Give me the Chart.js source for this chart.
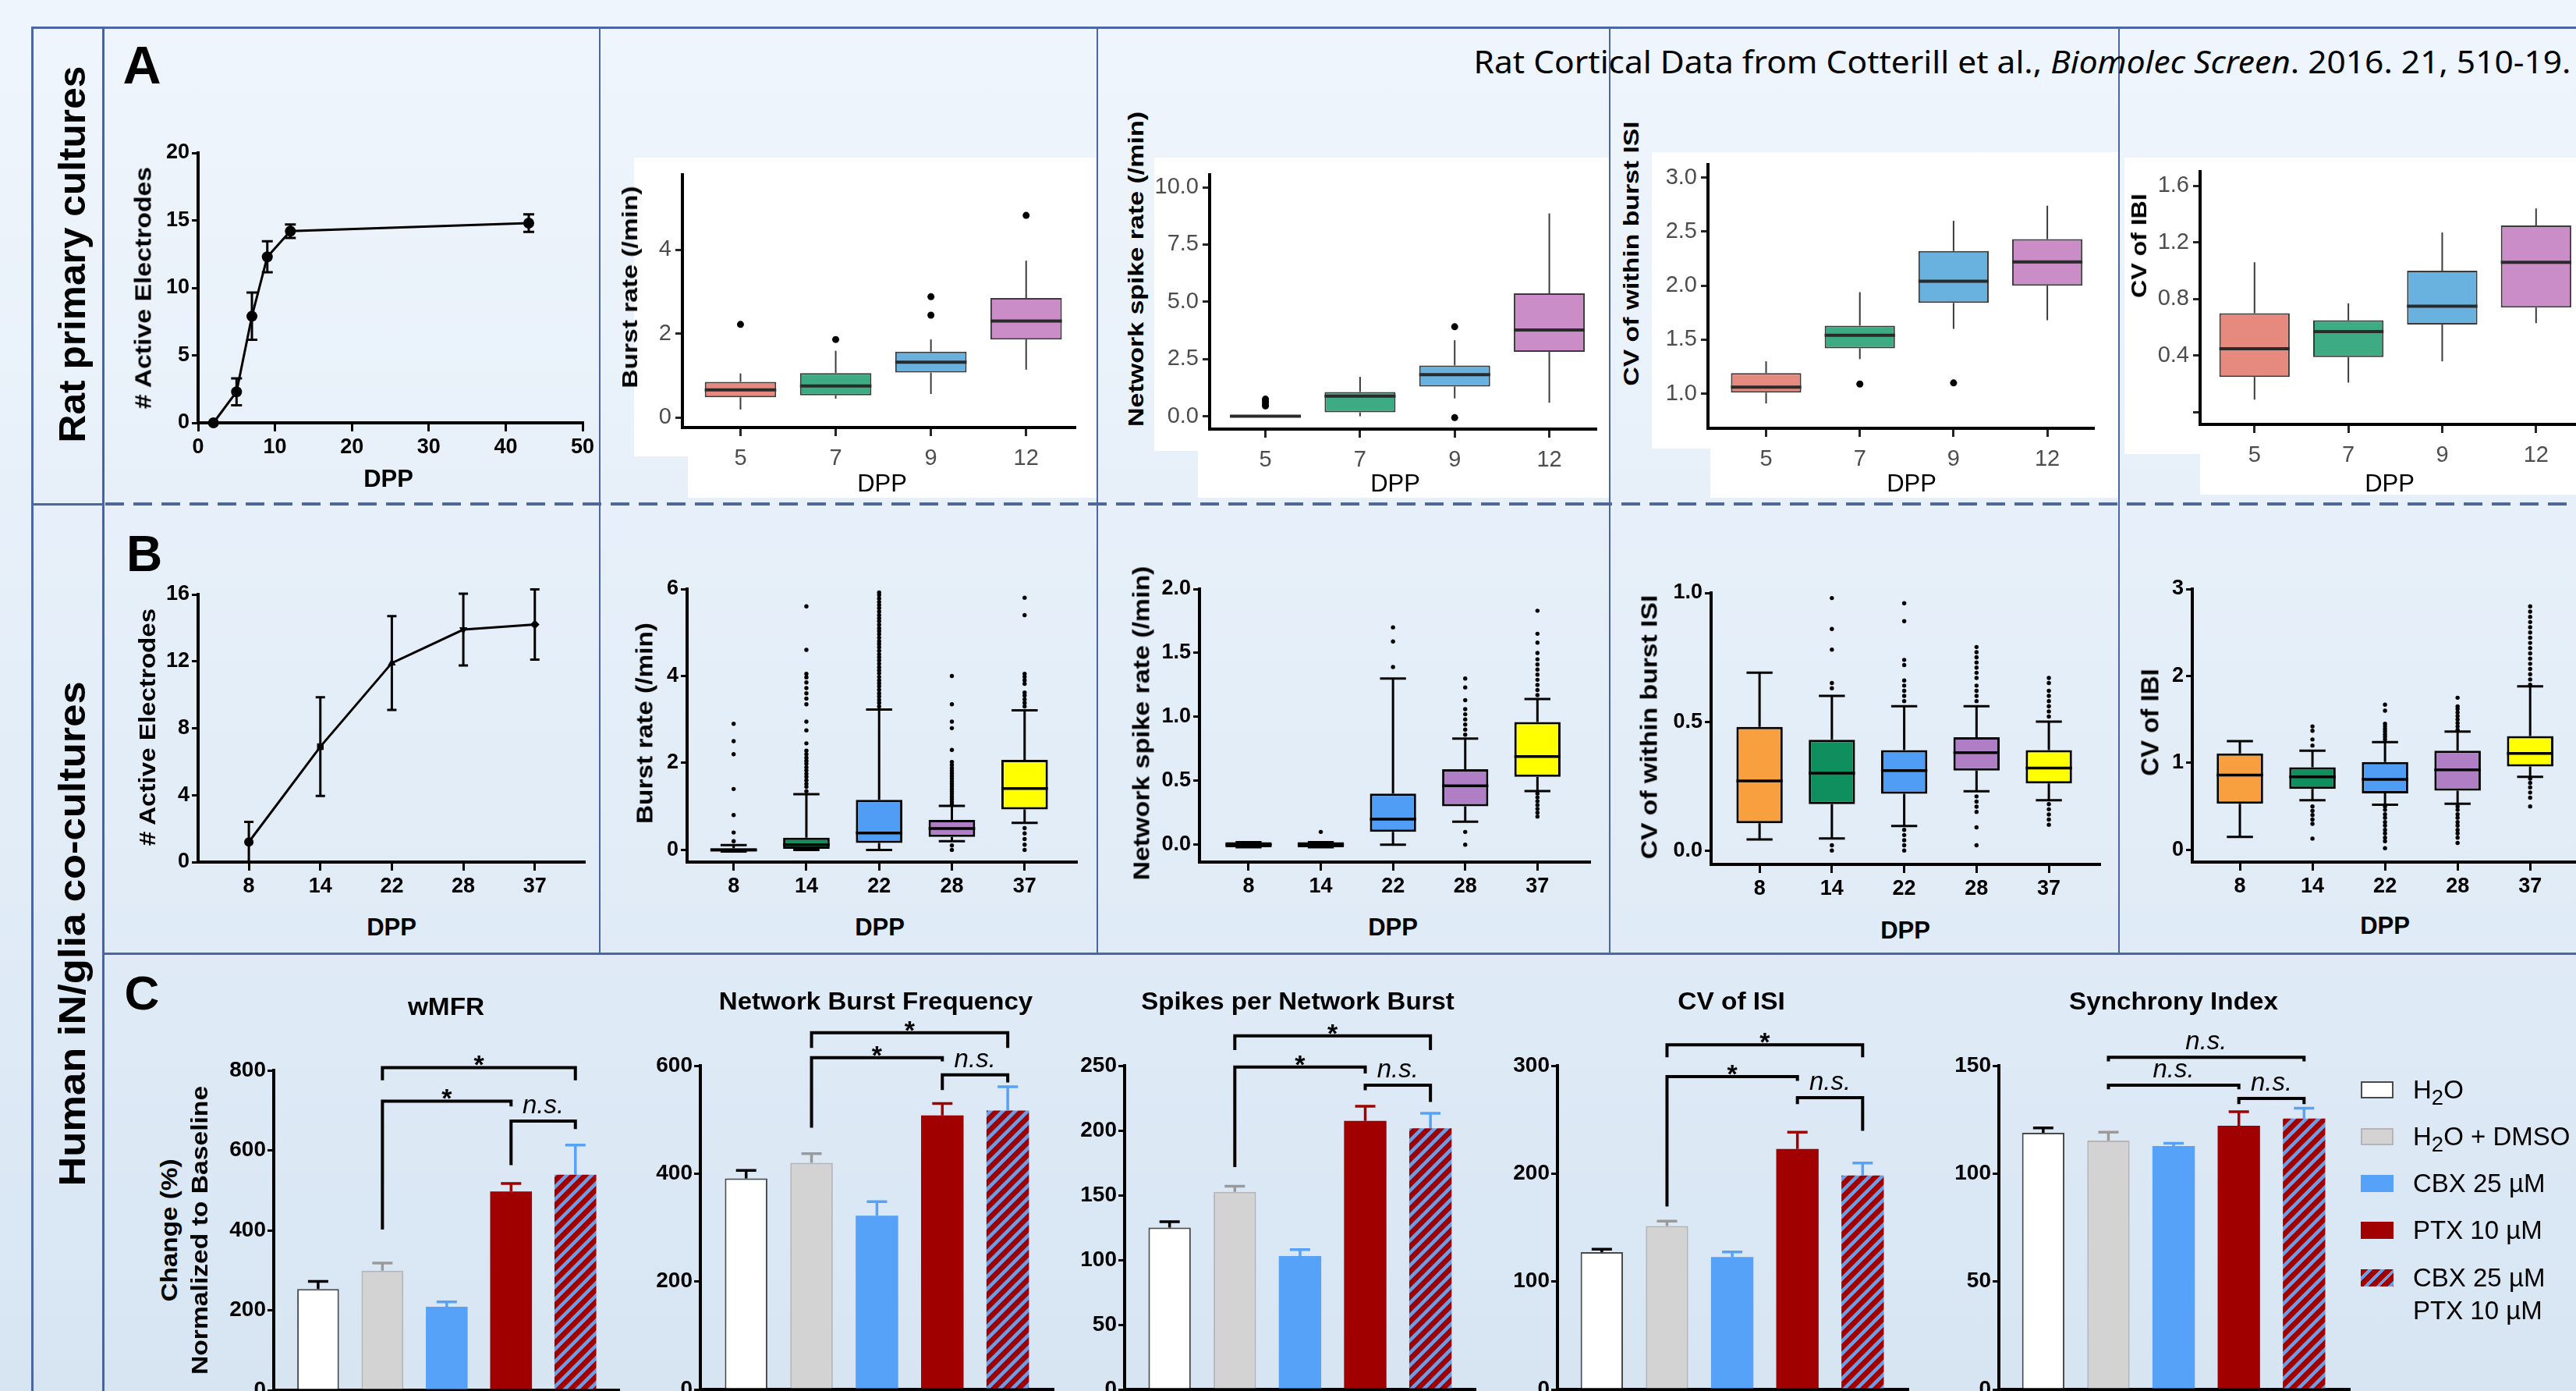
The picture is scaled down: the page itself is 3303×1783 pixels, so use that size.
<!DOCTYPE html>
<html lang="en">
<head>
<meta charset="UTF-8">
<title>MEA activity: rat primary cultures vs human iN/glia co-cultures</title>
<script src="https://cdn.jsdelivr.net/npm/chart.js"></script>
<style>
html, body { margin: 0; padding: 0; }
body {
  width: 3303px; height: 1783px; overflow: hidden; position: relative;
  background: linear-gradient(180deg, #eff5fc 0%, #e4eef8 50%, #d7e5f3 100%);
  font-family: 'Liberation Sans', Arial, sans-serif; color: #000;
}
.ln { position: absolute; background: #4a66a4; }
.white { position: absolute; background: #fff; }
.t { position: absolute; white-space: nowrap; line-height: 1; }
canvas { position: absolute; }
</style>
</head>
<body>
<script>
// ---------- A: rat primary cultures (Cotterill et al.) ----------
const ratDays = [2, 5, 7, 9, 12, 43];
const ratActive = [0, 2.3, 7.9, 12.3, 14.2, 14.8];
const ratActiveSem = [0, 1.0, 1.75, 1.15, 0.5, 0.65];
const ratDpp = ['5', '7', '9', '12'];
// every box: [lower whisker, Q1, median, Q3, upper whisker]
const ratBurst = [[0.19, 0.48, 0.66, 0.85, 1.05], [0.45, 0.53, 0.75, 1.06, 1.59], [0.56, 1.07, 1.32, 1.57, 1.86], [1.14, 1.86, 2.30, 2.85, 3.74]];
const ratBurstOut = [[2.22], [1.86], [2.44, 2.88], [4.82]];
const ratSpike = [[-0.05, -0.05, 0, 0.05, 0.05], [0, 0.17, 0.88, 1.06, 1.72], [0.78, 1.30, 1.82, 2.22, 3.32], [0.59, 2.81, 3.77, 5.37, 8.86]];
const ratSpikeOut = [[0.45, 0.55, 0.65, 0.75], [], [3.91, -0.06], []];
const ratWithinIsi = [[0.91, 1.01, 1.06, 1.19, 1.30], [1.32, 1.42, 1.54, 1.63, 1.94], [1.60, 1.84, 2.04, 2.32, 2.60], [1.68, 2.00, 2.22, 2.43, 2.74]];
const ratWithinIsiOut = [[], [1.09], [1.10], []];
const ratIbi = [[0.09, 0.25, 0.45, 0.70, 1.06], [0.21, 0.39, 0.57, 0.65, 0.77], [0.36, 0.62, 0.75, 1.00, 1.27], [0.63, 0.74, 1.06, 1.32, 1.44]];
const ratIbiOut = [[], [], [], []];

// ---------- B: human iN/glia co-cultures ----------
const humanDpp = ['8', '14', '22', '28', '37'];
const humanActive = [1.2, 6.9, 11.9, 13.9, 14.2];
const humanActiveSem = [1.2, 2.95, 2.8, 2.15, 2.1];
const humanBurst = [[-0.04, -0.04, 0, 0.04, 0.11], [0, 0, 0.12, 0.28, 1.28], [0, 0.16, 0.39, 1.15, 3.23], [0.2, 0.30, 0.49, 0.69, 1.01], [0.62, 0.93, 1.41, 2.07, 3.21]];
const humanBurstOut = [
  [0.2, 0.4, 0.8, 1.4, 2.2, 2.5, 2.9],
  [1.35, 1.45, 1.52, 1.6, 1.68, 1.75, 1.83, 1.9, 1.98, 2.05, 2.12, 2.2, 2.28, 2.45, 2.75, 2.95, 3.35, 3.48, 3.6, 3.72, 3.85, 3.97, 4.05, 4.6, 5.6],
  [3.3, 3.38, 3.45, 3.53, 3.6, 3.68, 3.76, 3.83, 3.9, 3.98, 4.06, 4.13, 4.2, 4.28, 4.36, 4.43, 4.5, 4.58, 4.66, 4.73, 4.8, 4.88, 4.96, 5.03, 5.1, 5.18, 5.26, 5.33, 5.4, 5.48, 5.56, 5.63, 5.7, 5.78, 5.86, 5.92],
  [1.05, 1.1, 1.16, 1.22, 1.28, 1.34, 1.4, 1.46, 1.52, 1.58, 1.64, 1.7, 1.76, 1.82, 1.88, 1.95, 2.02, 2.3, 2.8, 2.95, 3.35, 4.0, 0.1, 0.0],
  [3.3, 3.38, 3.46, 3.55, 3.62, 3.82, 3.9, 3.98, 4.05, 5.4, 5.8, 0.5, 0.38, 0.25, 0.12, 0.0]
];
const humanSpike = [[-0.02, -0.02, 0, 0.02, 0.02], [-0.02, -0.02, 0, 0.02, 0.02], [0, 0.10, 0.20, 0.40, 1.30], [0.18, 0.30, 0.46, 0.59, 0.83], [0.42, 0.53, 0.69, 0.96, 1.14]];
const humanSpikeOut = [
  [], [0.1], [1.39, 1.59, 1.7],
  [0.86, 0.9, 0.94, 0.98, 1.02, 1.06, 1.13, 1.23, 1.3, 0.1, 0.0],
  [1.17, 1.21, 1.25, 1.29, 1.33, 1.37, 1.41, 1.45, 1.5, 1.58, 1.65, 1.83, 0.4, 0.37, 0.34, 0.31, 0.28, 0.25, 0.22]
];
const humanWithinIsi = [[0.043, 0.106, 0.27, 0.48, 0.69], [0.047, 0.18, 0.30, 0.43, 0.60], [0.095, 0.22, 0.31, 0.39, 0.56], [0.23, 0.31, 0.38, 0.44, 0.56], [0.195, 0.26, 0.32, 0.39, 0.50]];
const humanWithinIsiOut = [
  [],
  [0.63, 0.65, 0.78, 0.86, 0.98, 0.02, 0.0],
  [0.58, 0.6, 0.62, 0.64, 0.66, 0.72, 0.74, 0.89, 0.96, 0.08, 0.06, 0.04, 0.02, 0.0],
  [0.58, 0.6, 0.62, 0.64, 0.67, 0.69, 0.71, 0.73, 0.75, 0.77, 0.79, 0.21, 0.19, 0.17, 0.15, 0.09, 0.02],
  [0.52, 0.54, 0.56, 0.58, 0.6, 0.62, 0.65, 0.67, 0.18, 0.16, 0.14, 0.12, 0.1]
];
const humanIbi = [[0.15, 0.53, 0.86, 1.11, 1.25], [0.57, 0.70, 0.84, 0.95, 1.14], [0.52, 0.65, 0.81, 1.01, 1.24], [0.53, 0.68, 0.92, 1.14, 1.36], [0.84, 0.96, 1.11, 1.31, 1.88]];
const humanIbiOut = [
  [],
  [1.2, 1.27, 1.37, 1.42, 0.5, 0.45, 0.4, 0.35, 0.3, 0.13],
  [1.27, 1.3, 1.33, 1.36, 1.39, 1.42, 1.45, 1.6, 1.67, 0.5, 0.46, 0.41, 0.37, 0.32, 0.28, 0.23, 0.19, 0.14, 0.1, 0.02],
  [1.38, 1.42, 1.46, 1.5, 1.54, 1.58, 1.62, 1.65, 1.75, 0.5, 0.46, 0.41, 0.37, 0.32, 0.28, 0.23, 0.19, 0.14, 0.08],
  [1.9, 1.96, 2.02, 2.08, 2.14, 2.2, 2.26, 2.32, 2.38, 2.44, 2.5, 2.56, 2.62, 2.68, 2.74, 2.8, 0.82, 0.77, 0.72, 0.66, 0.6, 0.5]
];

// ---------- C: pharmacology, % of baseline ----------
const treatments = ['H<sub>2</sub>O', 'H<sub>2</sub>O + DMSO', 'CBX 25 &micro;M', 'PTX 10 &micro;M', 'CBX 25 &micro;M<br>PTX 10 &micro;M'];
const wmfr = [253, 299, 209, 497, 539];
const wmfrSem = [19, 19, 12, 20, 74];
const burstFreq = [391, 420, 322, 508, 517];
const burstFreqSem = [15, 17, 26, 22, 44];
const spikesPerBurst = [125, 152.6, 103, 207.4, 201.6];
const spikesPerBurstSem = [4.5, 4.4, 5, 11.3, 11.7];
const cvIsi = [127.3, 151.4, 122.8, 222.8, 198.2];
const cvIsiSem = [2.7, 4.6, 4.7, 15.6, 11.6];
const synchrony = [118.9, 115.3, 112.8, 122.2, 125.5];
const synchronySem = [2.3, 3.9, 1.2, 6.5, 4.8];
// brackets: [from bar, to bar, line level, left leg end, right leg end, label]
const wmfrSig = [[1, 4, 807, 775, 775, '*'], [1, 3, 723, 402, 710, '*'], [3, 4, 673, 563, 653, 'n.s.']];
const burstFreqSig = [[1, 4, 661, 633, 633, '*'], [1, 3, 615, 485, 608, '*'], [3, 4, 583, 555, 569, 'n.s.']];
const spikesPerBurstSig = [[1, 4, 273, 262, 262, '*'], [1, 3, 249, 171.7, 244, '*'], [3, 4, 235, 231, 222, 'n.s.']];
const cvIsiSig = [[1, 4, 319.4, 307.7, 307.7, '*'], [1, 3, 289.8, 169.6, 285.9, '*'], [3, 4, 270.3, 264.4, 239.7, 'n.s.']];
const synchronySig = [[1, 4, 153.9, 152, 152, 'n.s.'], [1, 3, 141, 139.1, 139.1, 'n.s.'], [3, 4, 134.8, 132.2, 132.2, 'n.s.']];

// ---------- helpers ----------
const F = "'Liberation Sans', Arial, Helvetica, sans-serif";
Chart.defaults.font.family = F;
const body = document.body;

function block(cls, x, y, w, h, extra) {
  const d = document.createElement('div');
  d.className = cls;
  Object.assign(d.style, { left: x + 'px', top: y + 'px', width: w + 'px', height: h + 'px' }, extra || {});
  body.appendChild(d);
  return d;
}

// text centred on (x, y), optionally rotated and squeezed to a width
function text(html, x, y, font, rot, fitW) {
  const d = document.createElement('div');
  d.className = 't';
  d.innerHTML = html;
  d.style.font = font;
  body.appendChild(d);
  const sx = fitW ? fitW / d.offsetWidth : 1;
  d.style.left = x + 'px';
  d.style.top = y + 'px';
  d.style.transform = 'translate(-50%,-50%) rotate(' + (rot || 0) + 'deg) scaleX(' + sx + ')';
  return d;
}

function mount(plot, m, cfg) {
  const [x0, y0, x1, y1] = plot;
  const c = document.createElement('canvas');
  c.width = Math.round(x1 - x0 + m[0] + m[2]);
  c.height = Math.round(y1 - y0 + m[1] + m[3]);
  c.style.left = Math.round(x0 - m[0]) + 'px';
  c.style.top = Math.round(y0 - m[1]) + 'px';
  body.appendChild(c);
  const o = cfg.options;
  o.responsive = false;
  o.animation = false;
  o.devicePixelRatio = 1;
  o.events = [];
  o.layout = { padding: { left: 0, top: m[1], right: m[2], bottom: 0 } };
  o.scales.x.afterFit = s => { s.height = m[3]; s.paddingLeft = 0; s.paddingRight = 0; };
  o.scales.y.afterFit = s => { s.width = m[0]; s.paddingTop = 0; s.paddingBottom = 0; };
  o.plugins = { legend: { display: false }, tooltip: { enabled: false } };
  return new Chart(c, cfg);
}

function scale(min, max, ticks, fmt, st, horiz) {
  return {
    type: 'linear', min: min, max: max, offset: false,
    afterBuildTicks: s => { s.ticks = ticks.map(v => ({ value: v })); },
    ticks: { callback: fmt, font: st.font, color: st.color, padding: horiz ? st.padX : st.padY, autoSkip: false, maxRotation: 0, minRotation: 0 },
    grid: { display: true, drawOnChartArea: false, drawTicks: true, tickLength: horiz ? st.tickX : st.tickY, lineWidth: st.tickW, color: st.tickColor, offset: false },
    border: { display: true, width: st.axisW, color: '#000' }
  };
}

// whiskers (behind the boxes) and medians (on top)
function boxParts(stats, st) {
  return {
    id: 'boxParts',
    beforeDatasetsDraw(chart) {
      const ctx = chart.ctx, xs = chart.scales.x, ys = chart.scales.y;
      const bars = chart.getDatasetMeta(0).data;
      ctx.save();
      ctx.strokeStyle = st.line;
      ctx.lineWidth = st.whiskerW;
      stats.forEach((s, i) => {
        const x = bars[i].x;
        const half = st.cap ? xs.getPixelForValue(i + st.cap / 2) - xs.getPixelForValue(i) : 0;
        [[s[0], s[1]], [s[4], s[3]]].forEach(([end, edge]) => {
          const ye = ys.getPixelForValue(end), yb = ys.getPixelForValue(edge);
          ctx.beginPath();
          ctx.moveTo(x, yb); ctx.lineTo(x, ye);
          if (half) { ctx.moveTo(x - half, ye); ctx.lineTo(x + half, ye); }
          ctx.stroke();
        });
      });
      ctx.restore();
    },
    afterDatasetDraw(chart, args) {
      if (args.index !== 0) return;
      const ctx = chart.ctx, ys = chart.scales.y;
      const bars = chart.getDatasetMeta(0).data;
      ctx.save();
      ctx.strokeStyle = st.medColor;
      ctx.lineWidth = st.medW;
      stats.forEach((s, i) => {
        const b = bars[i], y = ys.getPixelForValue(s[2]);
        ctx.beginPath();
        ctx.moveTo(b.x - b.width / 2, y); ctx.lineTo(b.x + b.width / 2, y);
        ctx.stroke();
      });
      ctx.restore();
    }
  };
}

function errorBars(sem, spec) {
  return {
    id: 'errorBars',
    afterDatasetsDraw(chart) {
      const ctx = chart.ctx, ys = chart.scales.y;
      const pts = chart.getDatasetMeta(0).data;
      const vals = chart.data.datasets[0].data;
      ctx.save();
      ctx.lineWidth = spec.w;
      pts.forEach((p, i) => {
        if (!sem[i]) return;
        const v = vals[i].y;
        const hi = ys.getPixelForValue(v + sem[i]);
        const lo = spec.up ? p.y : ys.getPixelForValue(v - sem[i]);
        ctx.strokeStyle = Array.isArray(spec.color) ? spec.color[i] : spec.color;
        ctx.beginPath();
        ctx.moveTo(p.x, lo); ctx.lineTo(p.x, hi);
        ctx.moveTo(p.x - spec.cap, hi); ctx.lineTo(p.x + spec.cap, hi);
        if (!spec.up) { ctx.moveTo(p.x - spec.cap, lo); ctx.lineTo(p.x + spec.cap, lo); }
        ctx.stroke();
      });
      ctx.restore();
    }
  };
}

function brackets(list) {
  return {
    id: 'brackets',
    afterDraw(chart) {
      const ctx = chart.ctx, xs = chart.scales.x, ys = chart.scales.y;
      ctx.save();
      ctx.lineWidth = 4;
      ctx.strokeStyle = '#000';
      ctx.fillStyle = '#000';
      ctx.textAlign = 'center';
      ctx.textBaseline = 'alphabetic';
      list.forEach(([a, b, lvl, la, lb, lab]) => {
        const xa = xs.getPixelForValue(a), xb = xs.getPixelForValue(b), y = ys.getPixelForValue(lvl);
        ctx.beginPath();
        ctx.moveTo(xa, ys.getPixelForValue(la)); ctx.lineTo(xa, y);
        ctx.lineTo(xb, y); ctx.lineTo(xb, ys.getPixelForValue(lb));
        ctx.stroke();
        if (lab === '*') {
          ctx.font = 'bold 34px ' + F;
          ctx.fillText(lab, (xa + xb) / 2, y + 8);
        } else {
          ctx.font = 'italic 33px ' + F;
          ctx.fillText(lab, (xa + xb) / 2, y - 10);
        }
      });
      ctx.restore();
    }
  };
}

// ---------- styles ----------
const gg = {
  m: [75, 24, 30, 60], font: { family: F, size: 29 }, color: '#4d4d4d',
  tickX: 11, tickY: 9, tickW: 3, tickColor: '#262626', axisW: 4, padX: 12, padY: 5,
  boxW: 0.75, boxLine: 2, line: '#3b3b3b', whiskerW: 2, medW: 4, medColor: '#2a2a2a', cap: 0, dot: 4.5
};
const prism = {
  m: [75, 24, 30, 60], font: { family: F, size: 27, weight: 'bold' }, color: '#000',
  tickX: 11, tickY: 8, tickW: 3, tickColor: '#000', axisW: 4, padX: 4, padY: 3,
  boxW: 0.64, boxLine: 3, line: '#000', whiskerW: 3, medW: 3.5, medColor: '#000', cap: 0.36, dot: 2.7
};
const prismC = Object.assign({}, prism, { font: { family: F, size: 28, weight: 'bold' }, padY: 2 });
const ratFill = ['#e68a80', '#3dab83', '#69b1de', '#cb8dc7'];
const humanFill = ['#f89f3f', '#0f8f5d', '#4f9df4', '#b07ec4', '#ffff00'];

const stripe = (() => {
  const c = document.createElement('canvas');
  c.width = c.height = 16;
  const g = c.getContext('2d');
  g.fillStyle = '#a00000';
  g.fillRect(0, 0, 16, 16);
  g.strokeStyle = '#6a9ee6';
  g.lineWidth = 4.5;
  g.beginPath();
  g.moveTo(-4, 20); g.lineTo(20, -4);
  g.moveTo(-12, 12); g.lineTo(12, -12);
  g.moveTo(4, 28); g.lineTo(28, 4);
  g.stroke();
  return g.createPattern(c, 'repeat');
})();
const barFill = ['#ffffff', '#d3d3d3', '#55a2f8', '#a00000', stripe];
const barEdge = ['#4a4a4a', '#b5b5b5', '#55a2f8', '#a00000', '#a00000'];
const barEdgeW = [2, 2, 0, 0, 0];
const semColor = ['#000', '#9a9a9a', '#55a2f8', '#a00000', '#55a2f8'];

// ---------- frame ----------
block('white', 813, 202, 594, 383); block('white', 882, 585, 525, 53);
block('white', 1480, 202, 584, 376); block('white', 1536, 578, 528, 60);
block('white', 2118, 195, 600, 380); block('white', 2193, 575, 525, 63);
block('white', 2724, 202, 579, 380); block('white', 2821, 582, 482, 52);

block('ln', 40, 34, 3263, 3);
block('ln', 40, 34, 3, 1749);
block('ln', 131, 34, 3, 1749, { background: '#3f64b4' });
[768, 1406, 2063, 2716].forEach(x => block('ln', x, 34, 2, 1190));
block('ln', 131, 1221, 3172, 3);
block('ln', 40, 645, 92, 3);
block('ln', 135, 644, 3168, 4, { background: 'repeating-linear-gradient(90deg, #4f6796 0 24px, transparent 24px 36px)' });

// ---------- row A ----------
mount([254, 196, 747, 542], prism.m, {
  type: 'line',
  data: { datasets: [{
    data: ratDays.map((d, i) => ({ x: d, y: ratActive[i] })),
    borderColor: '#000', borderWidth: 3, pointRadius: 7, pointBackgroundColor: '#000', pointBorderWidth: 0, tension: 0, clip: false
  }] },
  options: { scales: {
    x: scale(0, 50, [0, 10, 20, 30, 40, 50], v => v, prism, true),
    y: scale(0, 20, [0, 5, 10, 15, 20], v => v, prism, false)
  } },
  plugins: [errorBars(ratActiveSem, { w: 3, cap: 7, color: '#000' })]
});

function boxPanel(plot, xr, yr, yTicks, yFmt, cats, stats, outs, fills, st) {
  return mount(plot, st.m, {
    type: 'bar',
    data: { datasets: [
      { type: 'bar', data: stats.map((s, i) => ({ x: i, y: [s[1], s[3]] })), backgroundColor: fills, borderColor: st.line,
        borderWidth: st.boxLine, borderSkipped: false, categoryPercentage: 1, barPercentage: st.boxW, order: 2 },
      { type: 'scatter', data: outs.flatMap((o, i) => o.map(v => ({ x: i, y: v }))), pointRadius: st.dot,
        pointBackgroundColor: '#000', pointBorderWidth: 0, clip: false, order: 1 }
    ] },
    options: { scales: {
      x: scale(xr[0], xr[1], cats.map((c, i) => i), v => cats[v], st, true),
      y: scale(yr[0], yr[1], yTicks, yFmt, st, false)
    } },
    plugins: [boxParts(stats, st)]
  });
}
const one = v => v.toFixed(1);

boxPanel([875, 224, 1378, 548], [-0.61, 3.51], [-0.24, 5.79], [0, 2, 4], v => v, ratDpp, ratBurst, ratBurstOut, ratFill, gg);
boxPanel([1551, 224, 2046, 550], [-0.59, 3.49], [-0.56, 10.55], [0, 2.5, 5, 7.5, 10], one, ratDpp, ratSpike, ratSpikeOut, ratFill, gg);
boxPanel([2190, 211, 2684, 549], [-0.62, 3.49], [0.68, 3.12], [1, 1.5, 2, 2.5, 3], one, ratDpp, ratWithinIsi, ratWithinIsiOut, ratFill, gg);
boxPanel([2821, 220, 3324, 544], [-0.58, 3.6], [-0.085, 1.70], [0, 0.4, 0.8, 1.2, 1.6], v => (v ? v.toFixed(1) : ''), ratDpp, ratIbi, ratIbiOut, ratFill, gg);

// ---------- row B ----------
mount([254, 762, 749, 1105], prism.m, {
  type: 'line',
  data: { datasets: [{
    data: humanActive.map((v, i) => ({ x: i, y: v })),
    borderColor: '#000', borderWidth: 3, pointRadius: 6,
    pointStyle: ['circle', 'rect', 'triangle', 'triangle', 'rectRot'], pointRotation: [0, 0, 0, 180, 0],
    pointBackgroundColor: '#000', pointBorderWidth: 0, tension: 0, clip: false
  }] },
  options: { scales: {
    x: scale(-0.71, 4.69, [0, 1, 2, 3, 4], v => humanDpp[v], prism, true),
    y: scale(0, 16, [0, 4, 8, 12, 16], v => v, prism, false)
  } },
  plugins: [errorBars(humanActiveSem, { w: 3, cap: 6, color: '#000' })]
});

boxPanel([881, 755, 1380, 1105], [-0.64, 4.71], [-0.28, 6], [0, 2, 4, 6], v => v, humanDpp, humanBurst, humanBurstOut, humanFill, prism);
boxPanel([1538, 755, 2038, 1105], [-0.68, 4.72], [-0.136, 2], [0, 0.5, 1, 1.5, 2], one, humanDpp, humanSpike, humanSpikeOut, humanFill, prism);
boxPanel([2194, 760, 2692, 1108], [-0.67, 4.70], [-0.054, 1], [0, 0.5, 1], one, humanDpp, humanWithinIsi, humanWithinIsiOut, humanFill, prism);
boxPanel([2811, 755, 3314, 1105], [-0.656, 4.75], [-0.14, 3], [0, 1, 2, 3], v => v, humanDpp, humanIbi, humanIbiOut, humanFill, prism);

// ---------- row C ----------
function barPanel(plot, xr, ymax, yTicks, vals, sem, sig) {
  return mount(plot, [80, 130, 20, 40], {
    type: 'bar',
    data: { datasets: [{
      data: vals.map((v, i) => ({ x: i, y: v })), backgroundColor: barFill, borderColor: barEdge, borderWidth: barEdgeW,
      categoryPercentage: 1, barPercentage: 0.65
    }] },
    options: { scales: {
      x: { type: 'linear', min: xr[0], max: xr[1], offset: false,
           afterBuildTicks: s => { s.ticks = vals.map((v, i) => ({ value: i })); },
           ticks: { display: false }, grid: { display: true, drawOnChartArea: false, drawTicks: true, tickLength: 8, lineWidth: 3, color: '#000', offset: false },
           border: { display: true, width: 4, color: '#000' } },
      y: scale(0, ymax, yTicks, v => v, prismC, false)
    } },
    plugins: [errorBars(sem, { w: 3.5, cap: 13, color: semColor, up: true }), brackets(sig)]
  });
}
barPanel([351, 1371.5, 793, 1781], [-0.69, 4.67], 800, [0, 200, 400, 600, 800], wmfr, wmfrSem, wmfrSig);
barPanel([898, 1366, 1350, 1781], [-0.70, 4.69], 600, [0, 200, 400, 600], burstFreq, burstFreqSem, burstFreqSig);
barPanel([1441.5, 1366, 1890, 1781], [-0.69, 4.68], 250, [0, 50, 100, 150, 200, 250], spikesPerBurst, spikesPerBurstSem, spikesPerBurstSig);
barPanel([1997, 1366, 2446, 1781], [-0.68, 4.69], 300, [0, 100, 200, 300], cvIsi, cvIsiSem, cvIsiSig);
barPanel([2563, 1366, 3012, 1781], [-0.68, 4.69], 150, [0, 50, 100, 150], synchrony, synchronySem, synchronySig);

// ---------- text ----------
const bold = s => 'bold ' + s + 'px ' + F;
const reg = s => s + 'px ' + F;

text('Rat primary cultures', 92, 326, bold(48), -90, 483);
text('Human iN/glia co-cultures', 92, 1197, bold(48), -90, 647);
text('A', 182, 83, bold(68));
text('B', 185, 710, bold(64));
text('C', 182, 1272, bold(62));
text('Rat Cortical Data from Cotterill et al., <i>Biomolec Screen</i>. 2016. 21, 510-19.', 2593, 78, "40px 'Noto Sans', " + F, 0, 1407);

text('# Active Electrodes', 184, 369, bold(29), -90, 311);
text('Burst rate (/min)', 808, 368, bold(28), -90, 259);
text('Network spike rate (/min)', 1457, 345, bold(28), -90, 404);
text('CV of within burst ISI', 2092, 325, bold(28), -90, 340);
text('CV of IBI', 2743, 315, bold(28), -90, 134);
text('DPP', 498, 614, bold(31));
[1131, 1789, 2451, 3064].forEach(x => text('DPP', x, 620, reg(31)));

text('# Active Electrodes', 189, 932, bold(29), -90, 305);
text('Burst rate (/min)', 827, 927, bold(29), -90, 258);
text('Network spike rate (/min)', 1464, 927, bold(29), -90, 403);
text('CV of within burst ISI', 2115, 932, bold(29), -90, 339);
text('CV of IBI', 2757, 926, bold(32), -90, 137);
[[502, 1189], [1128, 1189], [1786, 1189], [2443, 1193], [3058, 1187]].forEach(p => text('DPP', p[0], p[1], bold(31)));

text('wMFR', 572, 1290, bold(32), 0, 98);
text('Network Burst Frequency', 1123, 1283, bold(32), 0, 402);
text('Spikes per Network Burst', 1664, 1283, bold(32), 0, 401);
text('CV of ISI', 2220, 1283, bold(32), 0, 138);
text('Synchrony Index', 2787, 1283, bold(32), 0, 268);
text('Change (%)', 217, 1577, bold(30), -90, 183);
text('Normalized to Baseline', 256, 1577, bold(30), -90, 370);

// legend
const swatch = [
  { background: '#fff', border: '2px solid #4a4a4a' },
  { background: '#d3d3d3', border: '2px solid #b5b5b5' },
  { background: '#55a2f8' },
  { background: '#a00000' },
  { background: 'repeating-linear-gradient(135deg, #a00000 0 7px, #6a9ee6 7px 11px)' }
];
[1397, 1457, 1517, 1577, 1638].forEach((y, i) => {
  block('sw', 3027, y - 11, 42, 22, Object.assign({ position: 'absolute', boxSizing: 'border-box' }, swatch[i]));
  const d = document.createElement('div');
  d.className = 't';
  d.innerHTML = treatments[i];
  Object.assign(d.style, { font: reg(33), left: '3094px', top: (y - 16) + 'px', lineHeight: '42px', marginTop: '-5px' });
  body.appendChild(d);
});
</script>
</body>
</html>
